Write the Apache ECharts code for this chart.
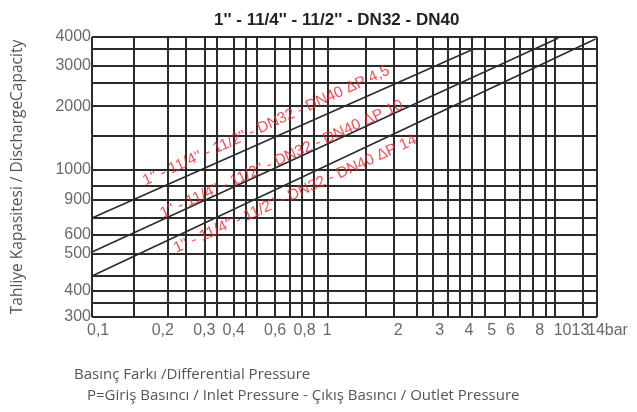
<!DOCTYPE html>
<html>
<head>
<meta charset="utf-8">
<script src="https://cdn.jsdelivr.net/npm/echarts@6/dist/echarts.min.js"></script>
<style>
  html, body { margin: 0; padding: 0; background: #fff; }
  #chart { width: 637px; height: 412px; }
</style>
</head>
<body>
<div id="chart"></div>
<script>
// basınç farkı ekseni (bar), log ölçek
const xGrid = [0.1, 0.155, 0.207, 0.25, 0.3, 0.345, 0.4, 0.45, 0.5, 0.6, 0.69, 0.78, 0.88, 1,
  1.46, 1.92, 2.41, 2.81, 3.26, 3.66, 4.11, 4.67, 5.68, 6.57, 7.46, 8.47, 9.25, 12.2, 14]
const xTicks = [0.1, 0.2, 0.3, 0.4, 0.6, 0.8, 1, 2, 3, 4, 5, 6, 8, 10, 13, 14]
const xTickLabels = ['0,1', '0,2', '0,3', '0,4', '0,6', '0,8', '1', '2', '3', '4', '5', '6', '8', '10', '13', '14bar']

// tahliye kapasitesi ekseni, log ölçek
const yGrid = [300, 341, 382, 438, 537, 645, 750, 885, 1010, 1170, 1600, 2110, 2610, 3060, 3580, 4000]
const yTicks = [300, 382, 537, 645, 885, 1170, 2110, 3060, 4000]
const yTickLabels = ['300', '400', '500', '600', '900', '1000', '2000', '3000', '4000']

// eğriler [basınç farkı, kapasite]
const dp45 = [[0.1, 750], [4.1, 3550]]
const dp10 = [[0.1, 547], [9.6, 3960]]
const dp14 = [[0.1, 438], [13.8, 3930]]

const curveNames = [
  "1'' - 11/4'' - 11/2'' - DN32 - DN40 ΔP 4,5",
  "1'' - 11/4'' - 11/2'' - DN32 - DN40 ΔP 10",
  "1'' - 11/4'' - 11/2'' - DN32 - DN40 ΔP 14"
]
const curveNameAt = [[0.55, 1760], [0.64, 1290], [0.73, 935]]

const chart = echarts.init(document.getElementById('chart'))

const lineColor = '#2b2b2b'
const textColor = '#444'

const curve = (name, data, extra) => Object.assign({
  name: name,
  type: 'line',
  data: data,
  symbol: 'none',
  silent: true,
  lineStyle: { color: lineColor, width: 1.6 },
  z: 5
}, extra || {})

const option = {
  animation: false,
  title: [
    {
      text: "1'' - 11/4'' - 11/2'' - DN32 - DN40",
      left: 214,
      top: 12,
      padding: 0,
      textStyle: { fontSize: 17, fontWeight: 'bold', color: '#222', fontFamily: 'Liberation Sans' }
    },
    {
      text: 'Basınç Farkı /Differential Pressure',
      left: 74,
      top: 367,
      padding: 0,
      textStyle: { fontSize: 15, fontWeight: 'normal', color: '#555', fontFamily: 'Open Sans' }
    },
    {
      text: 'P=Giriş Basıncı / Inlet Pressure - Çıkış Basıncı / Outlet Pressure',
      left: 87,
      top: 388,
      padding: 0,
      textStyle: { fontSize: 15, fontWeight: 'normal', color: '#555', fontFamily: 'Open Sans' }
    }
  ],
  grid: { left: 92, right: 40, top: 37, bottom: 95 },
  xAxis: {
    type: 'log',
    min: 0.1,
    max: 14,
    axisLine: { show: false },
    axisTick: { show: false },
    axisLabel: { show: false },
    splitLine: { show: false },
    minorSplitLine: { show: false }
  },
  yAxis: {
    type: 'log',
    min: 300,
    max: 4000,
    name: 'Tahliye Kapasitesi / DischargeCapacity',
    nameLocation: 'middle',
    nameRotate: 90,
    nameGap: 66,
    nameTextStyle: { fontSize: 15.5, color: '#555', fontFamily: 'Open Sans' },
    axisLine: { show: false },
    axisTick: { show: false },
    axisLabel: { show: false },
    splitLine: { show: false },
    minorSplitLine: { show: false }
  },
  series: [
    curve(curveNames[0], dp45, {
      markLine: {
        silent: true,
        symbol: 'none',
        label: { show: false },
        lineStyle: { color: lineColor, width: 2, type: 'solid' },
        data: xGrid.map(v => ({ xAxis: v })).concat(yGrid.map(v => ({ yAxis: v })))
      }
    }),
    curve(curveNames[1], dp10),
    curve(curveNames[2], dp14),
    {
      type: 'scatter',
      silent: true,
      symbolSize: 0,
      z: 6,
      data: curveNames.map((t, i) => ({ value: curveNameAt[i], name: t })),
      label: {
        show: true,
        position: 'inside',
        rotate: 24.5,
        formatter: p => p.name,
        color: '#f0262c',
        fontSize: 15.5,
        fontFamily: 'Liberation Sans'
      }
    },
    {
      type: 'scatter',
      silent: true,
      symbolSize: 0,
      data: xTicks.map((v, i) => {
        const item = { value: [v, 300], name: xTickLabels[i] }
        if (i === 0) item.label = { align: 'left', offset: [-5, 0] }
        if (v === 13) item.label = { offset: [-9, 0] }
        if (v === 14) item.label = { align: 'left', offset: [-10, 0] }
        return item
      }),
      label: {
        show: true,
        position: 'bottom',
        distance: 6,
        formatter: p => p.name,
        color: textColor,
        fontSize: 16,
        fontFamily: 'Liberation Sans'
      }
    },
    {
      type: 'scatter',
      silent: true,
      symbolSize: 0,
      data: yTicks.map((v, i) => ({ value: [0.1, v], name: yTickLabels[i] })),
      label: {
        show: true,
        position: 'left',
        distance: 1,
        formatter: p => p.name,
        color: textColor,
        fontSize: 16,
        fontFamily: 'Liberation Sans'
      }
    }
  ]
}

chart.setOption(option)
window.addEventListener('resize', () => chart.resize())
</script>
</body>
</html>
